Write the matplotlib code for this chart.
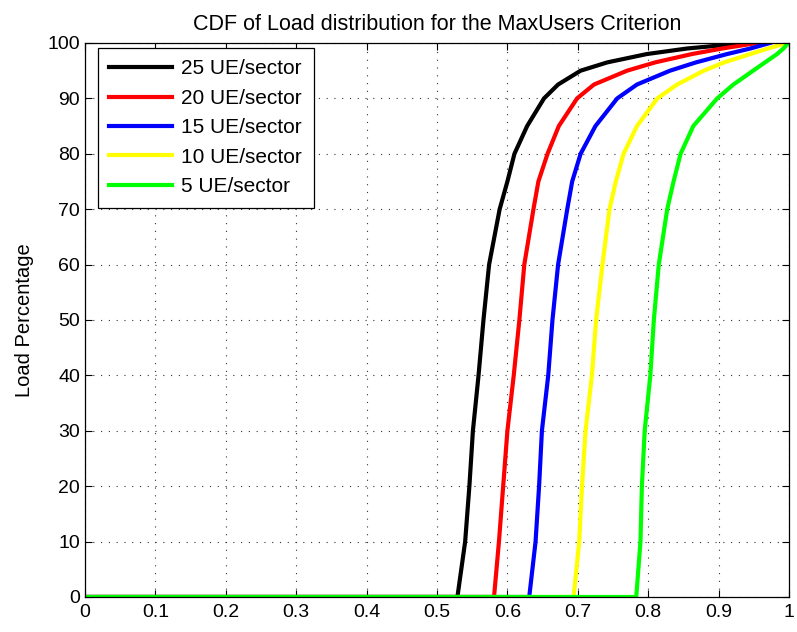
import matplotlib.pyplot as plt

plt.rcParams['font.family'] = ['Liberation Sans', 'DejaVu Sans']

# CDF percentage levels shared by all curves
pct = [0, 10, 20, 30, 40, 50, 60, 70, 75, 80, 85, 90, 92.5, 95, 96.5, 98, 99, 100]

# load values at each percentage level
load_25 = [0.529, 0.540, 0.546, 0.551, 0.559, 0.566, 0.574, 0.589, 0.600, 0.610,
           0.628, 0.652, 0.672, 0.704, 0.742, 0.798, 0.855, 0.940]
load_20 = [0.581, 0.588, 0.594, 0.600, 0.609, 0.617, 0.624, 0.637, 0.644, 0.657,
           0.673, 0.699, 0.723, 0.770, 0.810, 0.862, 0.905, 0.955]
load_15 = [0.631, 0.640, 0.645, 0.649, 0.658, 0.664, 0.672, 0.685, 0.692, 0.704,
           0.725, 0.756, 0.784, 0.831, 0.868, 0.912, 0.945, 0.973]
load_10 = [0.694, 0.702, 0.706, 0.711, 0.720, 0.726, 0.735, 0.745, 0.754, 0.765,
           0.784, 0.813, 0.841, 0.879, 0.908, 0.945, 0.970, 0.997]
load_5 = [0.783, 0.789, 0.791, 0.795, 0.803, 0.808, 0.815, 0.827, 0.836, 0.846,
          0.864, 0.898, 0.921, 0.949, 0.966, 0.983, 0.992, 0.999]

series = [
    (load_25, '#000000', '25 UE/sector'),
    (load_20, '#ff0000', '20 UE/sector'),
    (load_15, '#0000ff', '15 UE/sector'),
    (load_10, '#ffff00', '10 UE/sector'),
    (load_5, '#00ff00', '5 UE/sector'),
]

fig = plt.figure(figsize=(7.97, 6.32), dpi=100)
ax = fig.add_axes([0.1066, 0.0554, 0.8834, 0.8766])

for x, c, lbl in series:
    # CDF sits at zero from 0 up to the minimum load
    ax.plot([0] + x, [0] + pct, color=c, lw=3, label=lbl)

ax.set_xlim(0, 1)
ax.set_ylim(0, 100)
ax.set_xticks([i / 10 for i in range(11)])
ax.set_xticklabels(['0', '0.1', '0.2', '0.3', '0.4', '0.5', '0.6', '0.7', '0.8', '0.9', '1'])
ax.set_yticks(range(0, 101, 10))
ax.tick_params(direction='in', top=True, right=True, labelsize=14, length=5, width=0.8)
ax.tick_params(axis='x', pad=5)
ax.grid(True, color='#333333', linestyle=(0, (1, 6)), linewidth=0.8)
for s in ax.spines.values():
    s.set_linewidth(0.9)

ax.set_ylabel('Load Percentage', fontsize=14.5, labelpad=10)
ax.set_title('CDF of Load distribution for the MaxUsers Criterion', fontsize=15.5, pad=9)

leg = ax.legend(loc='upper left', bbox_to_anchor=(98 / 797, 1 - 48 / 632),
                bbox_transform=fig.transFigure, borderaxespad=0,
                fontsize=15, fancybox=False, framealpha=1, edgecolor='k',
                handlelength=3.0, handletextpad=0.45, borderpad=0.55,
                labelspacing=0.5)
leg.get_frame().set_linewidth(0.9)

fig.savefig('out.png', dpi=100)
